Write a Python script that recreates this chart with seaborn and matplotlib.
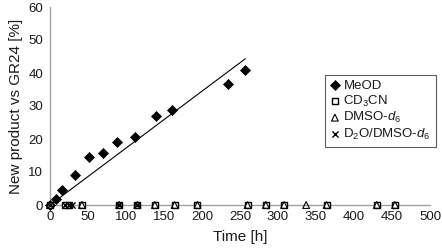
import numpy as np
import pandas as pd
import matplotlib
matplotlib.use("Agg")
import matplotlib.pyplot as plt
import seaborn as sns

# --- data ---
meod_t = [0, 8, 16, 33, 51, 70, 88, 112, 139, 161, 234, 257]
meod_y = [0, 1.7, 4.5, 9.2, 14.5, 15.7, 19.0, 20.7, 27.1, 28.8, 36.6, 40.8]
cd3cn_t = [0, 20, 25, 42, 91, 115, 138, 164, 194, 260, 284, 308, 364, 430, 454]
dmso_t = [0, 42, 91, 115, 138, 164, 194, 260, 284, 308, 337, 364, 430, 454]
d2o_t = [0, 20, 25, 29, 91, 115]
labels = ["MeOD", "CD$_3$CN", "DMSO-$d_6$", "D$_2$O/DMSO-$d_6$"]
x_ticks = [0, 50, 100, 150, 200, 250, 300, 350, 400, 450, 500]
y_ticks = [0, 10, 20, 30, 40, 50, 60]

sns.set_theme(style="white")
plt.rcParams['font.family'] = ['Liberation Sans', 'DejaVu Sans']
plt.rcParams['mathtext.fontset'] = 'custom'
plt.rcParams['mathtext.rm'] = 'Liberation Sans'
plt.rcParams['mathtext.it'] = 'Liberation Sans:italic'

fig = plt.figure(figsize=(4.42, 2.52), dpi=100)
ax = fig.add_axes([50/442, 47/252, 380/442, 198/252])

df_meod = pd.DataFrame({"t": meod_t, "y": meod_y})
df_cd = pd.DataFrame({"t": cd3cn_t, "y": np.zeros(len(cd3cn_t))})
df_dm = pd.DataFrame({"t": dmso_t, "y": np.zeros(len(dmso_t))})
df_d2 = pd.DataFrame({"t": d2o_t, "y": np.zeros(len(d2o_t))})

# trend line: least squares through origin on MeOD
t = np.array(meod_t, float); y = np.array(meod_y, float)
slope = (t * y).sum() / (t * t).sum()
tl = np.array([t[1], t[-1]])
df_tr = pd.DataFrame({"t": tl, "y": slope * tl})
sns.lineplot(data=df_tr, x="t", y="y", ax=ax, color="black", lw=0.8, zorder=2)

kw = dict(ax=ax, clip_on=False, zorder=3)
sns.scatterplot(data=df_meod, x="t", y="y", marker="D", s=26, color="black",
                edgecolor="black", linewidth=0.5, label=labels[0], **kw)
sns.scatterplot(data=df_cd, x="t", y="y", marker="s", s=24, facecolor="white",
                edgecolor="black", linewidth=1.0, label=labels[1], **kw)
sns.scatterplot(data=df_dm, x="t", y="y", marker="^", s=24, facecolor="none",
                edgecolor="black", linewidth=0.8, label=labels[2], **kw)
sns.scatterplot(data=df_d2, x="t", y="y", marker="x", s=20, color="black",
                linewidth=1.0, label=labels[3], **kw)

ax.set_xlim(0, 500)
ax.set_ylim(0, 60)
ax.set_xticks(x_ticks)
ax.set_yticks(y_ticks)
ax.tick_params(axis='both', length=0, labelsize=9.5, colors="#1a1a1a")
ax.tick_params(axis='x', pad=4)
ax.tick_params(axis='y', pad=5)
for s in ["top", "right"]:
    ax.spines[s].set_visible(False)
for s in ["left", "bottom"]:
    ax.spines[s].set_color("#a0a0a0")
    ax.spines[s].set_linewidth(1.0)
ax.set_xlabel("Time [h]", fontsize=11, labelpad=5, color="#1a1a1a")
ax.set_ylabel("New product vs GR24 [%]", fontsize=11, labelpad=4, color="#1a1a1a")

leg = ax.legend(loc="upper left", bbox_to_anchor=(275/380, (205-75)/198), frameon=True,
                fontsize=9.5, handletextpad=0.25, borderpad=0.35, labelspacing=0.12,
                handlelength=0.8, fancybox=False, borderaxespad=0, markerscale=1.0)
leg.get_frame().set_edgecolor("#333333")
leg.get_frame().set_linewidth(0.8)
for txt in leg.get_texts():
    txt.set_color("#1a1a1a")

fig.savefig("out.png", dpi=100)
